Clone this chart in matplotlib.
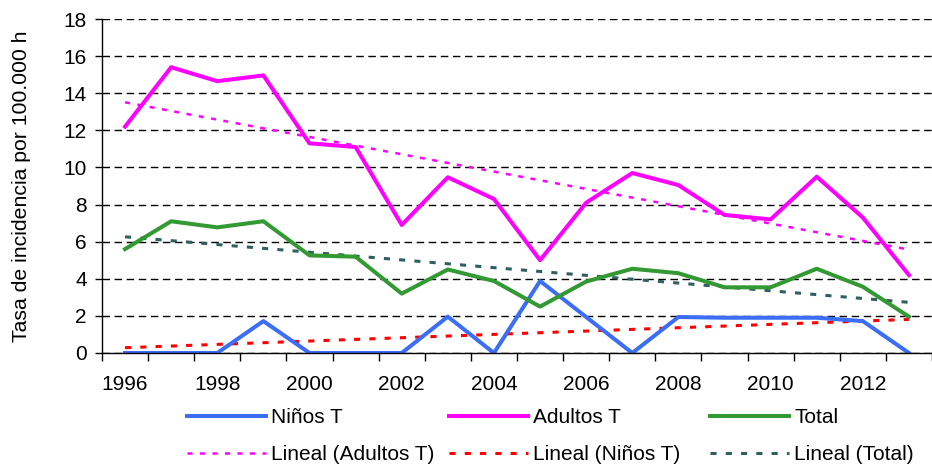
import numpy as np
import matplotlib
matplotlib.use("Agg")
import matplotlib.pyplot as plt

plt.rcParams['font.family'] = ['Liberation Sans', 'DejaVu Sans']

# Tasa de incidencia por 100.000 h
anios = list(range(1996, 2014))
ninos = [0, 0, 0, 1.72, 0, 0, 0, 1.96, 0, 3.88, 1.94, 0, 1.94, 1.9, 1.9, 1.9, 1.72, 0]
adultos = [12.2, 15.4, 14.65, 14.96, 11.3, 11.1, 6.9, 9.47, 8.3, 5.0, 8.1, 9.7, 9.05, 7.44, 7.2, 9.5, 7.3, 4.2]
total = [5.6, 7.1, 6.77, 7.1, 5.26, 5.19, 3.2, 4.5, 3.88, 2.5, 3.85, 4.54, 4.3, 3.54, 3.54, 4.54, 3.57, 1.96]

x = np.arange(len(anios))
fs = 15

fig = plt.figure(figsize=(9.32, 4.68), dpi=100)
ax = fig.add_axes([102 / 932, 1 - 353 / 468, 830 / 932, 334 / 468])

l_ninos, = ax.plot(x, ninos, color='#3B6EF5', lw=2.9, label='Niños T', zorder=4)
l_adultos, = ax.plot(x, adultos, color='#FF00FF', lw=2.9, label='Adultos T', zorder=4)
l_total, = ax.plot(x, total, color='#339933', lw=2.9, label='Total', zorder=4)

# lineas de tendencia (ajuste lineal como en Excel)
def tendencia(v):
    a, b = np.polyfit(x, v, 1)
    return a * x + b

t_adultos, = ax.plot(x, tendencia(adultos), color='#FF00FF', lw=1.8, ls=(0, (2, 3)),
                     label='Lineal (Adultos T)', zorder=3)
t_ninos, = ax.plot(x, tendencia(ninos), color='#FF0000', lw=2.2, ls=(0, (2, 3)),
                   label='Lineal (Niños T)', zorder=3)
t_total, = ax.plot(x, tendencia(total), color='#2F5F5F', lw=2.2, ls=(0, (2, 3)),
                   label='Lineal (Total)', zorder=3)

ax.set_ylim(0, 18)
ax.set_yticks(range(0, 19, 2))
ax.set_xlim(-0.5, (932 - 126) / 46.5)
ax.set_xticks(x[::2])
ax.set_xticklabels([str(a) for a in anios[::2]])
ax.set_xticks(np.arange(-0.5, 18, 1), minor=True)
ax.tick_params(axis='x', which='major', length=0, pad=16, labelsize=fs)
ax.tick_params(axis='x', which='minor', length=6, direction='out', width=1)
ax.tick_params(axis='y', length=5, direction='out', width=1, labelsize=fs, pad=6)

ax.grid(axis='y', color='black', ls=(0, (5.4, 3.3)), lw=1)
ax.set_axisbelow(True)
for s in ['top', 'right']:
    ax.spines[s].set_visible(False)
ax.spines['left'].set_linewidth(1)
ax.spines['bottom'].set_linewidth(1)
ax.spines['bottom'].set_zorder(5)

ax.set_ylabel('Tasa de incidencia por 100.000 h', fontsize=15.3)
ax.yaxis.set_label_coords((31 - 102) / 830, 0.5)

# leyenda: tres columnas colocadas a mano
columnas = [(l_ninos, t_adultos), (l_adultos, t_ninos), (l_total, t_total)]
x_cols = [187, 449, 710]
for (h1, h2), xc in zip(columnas, x_cols):
    leg = fig.legend(handles=[h1, h2], labels=[h1.get_label(), h2.get_label()],
                     loc='center left', bbox_to_anchor=(xc / 932, 1 - 436 / 468),
                     frameon=False, fontsize=fs, handlelength=3.8, handletextpad=0.25,
                     labelspacing=0.85, borderpad=0, borderaxespad=0)

fig.savefig('out.png', dpi=100)
